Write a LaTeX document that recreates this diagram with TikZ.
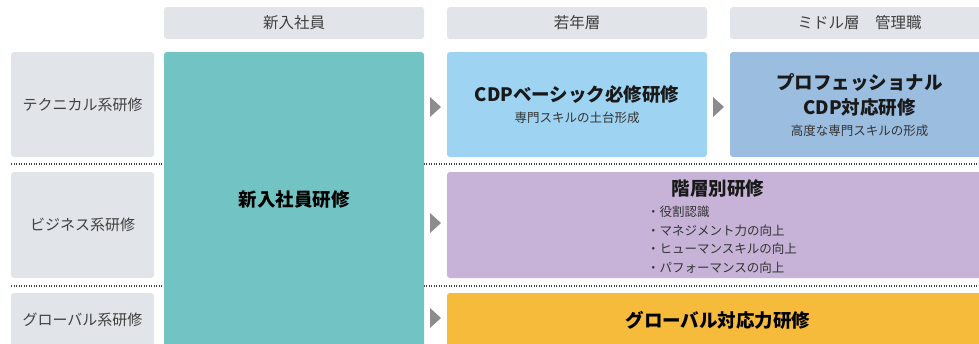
\documentclass[tikz,border=0pt]{standalone}
\usepackage{fontspec}
\setmainfont{Noto Sans CJK JP}
\usetikzlibrary{positioning}
\definecolor{headgray}{RGB}{225,229,233}
\definecolor{newteal}{RGB}{114,196,196}
\definecolor{cdpblue}{RGB}{158,211,242}
\definecolor{problue}{RGB}{155,189,224}
\definecolor{tierpurple}{RGB}{199,179,215}
\definecolor{globalorange}{RGB}{247,187,60}
\definecolor{markgray}{RGB}{140,140,140}
\definecolor{textgray}{RGB}{64,64,64}

\begin{document}
\begin{tikzpicture}[
    x=1pt, y=-1pt,
    every node/.style={align=center, inner sep=0pt},
    headbox/.style={rectangle, rounded corners=3pt, fill=headgray, minimum height=32pt, text=textgray, font=\fontsize{15.5}{18}\selectfont},
    labelbox/.style={rectangle, rounded corners=3pt, fill=headgray, minimum width=143pt, text=textgray, font=\fontsize{15}{18}\selectfont},
    coursebox/.style={rectangle, rounded corners=3pt, font=\bfseries\fontsize{18.5}{22}\selectfont},
    titletext/.style={font=\bfseries\fontsize{18.5}{22}\selectfont, text=black!90},
    subtext/.style={font=\fontsize{12.5}{15}\selectfont, text=black!80},
    sepline/.style={black!75, line width=1.3pt, dash pattern=on 1.2pt off 1.3pt},
    stepmark/.style={fill=markgray}
]
\useasboundingbox (0,0) rectangle (979,343);
\clip (0,0) rectangle (979,343);

% Column headers
\node[headbox, minimum width=260pt] (hdrNew) at (294,23) {新入社員};
\node[headbox, minimum width=260pt] (hdrYoung) at (577,23) {若年層};
\node[headbox, minimum width=259pt] (hdrMid) at (859.5,23) {ミドル層　管理職};

% Row labels
\node[labelbox, minimum height=105pt] (lblTech) at (82.5,104.5) {テクニカル系研修};
\node[labelbox, minimum height=106pt] (lblBiz) at (82.5,225) {ビジネス系研修};
\node[labelbox, minimum height=54pt] (lblGlob) at (82.5,320) {グローバル系研修};

% Row separators
\draw[sepline] (11,164) -- (979,164);
\draw[sepline] (11,286) -- (979,286);

% New employee training - spans all rows
\node[coursebox, fill=newteal, minimum width=260pt, minimum height=295pt] (newHire) at (294,199.5) {新入社員研修};

% Technical row
\node[coursebox, fill=cdpblue, minimum width=260pt, minimum height=105pt] (cdpBasic) at (577,104.5) {};
\node[titletext] (cdpTitle) at (577,95) {CDPベーシック必修研修};
\node[subtext] (cdpSub) at (577,118) {専門スキルの土台形成};

\node[coursebox, fill=problue, minimum width=259pt, minimum height=105pt] (proCdp) at (859.5,104.5) {};
\node[titletext] (proTitle) at (859.5,82) {プロフェッショナル};
\node[titletext] (proTitleB) at (859.5,108) {CDP対応研修};
\node[subtext] (proSub) at (859.5,131) {高度な専門スキルの形成};

% Business row
\node[coursebox, fill=tierpurple, minimum width=542pt, minimum height=106pt] (tierBox) at (718,225) {};
\node[titletext] (tierTitle) at (718,189) {階層別研修};
\foreach \item [count=\i] in {役割認識, マネジメント力の向上, ヒューマンスキルの向上, パフォーマンスの向上}
    \node[subtext, anchor=west] (tierItem\i) at (647,193.5+18.5*\i) {・\item};

% Global row
\node[coursebox, fill=globalorange, minimum width=542pt, minimum height=54pt] (globalBox) at (718,320) {グローバル対応力研修};

% Step markers between columns
\foreach \mx/\my in {430/107, 430/223, 430/318, 713/107}
    \fill[stepmark] (\mx,\my-10) -- (\mx+11,\my) -- (\mx,\my+10) -- cycle;

\end{tikzpicture}
\end{document}
